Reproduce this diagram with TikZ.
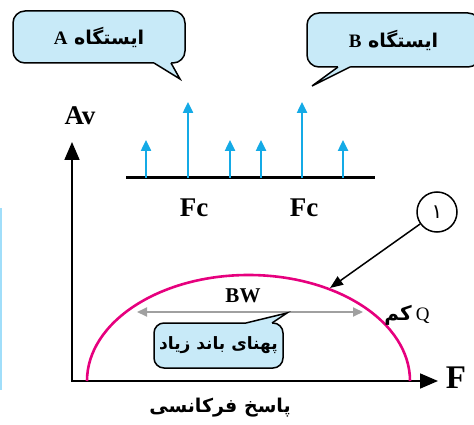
\documentclass[tikz,border=0pt]{standalone}
\usepackage{fontspec}
\setmainfont{Liberation Serif}
\newfontfamily\farsifont[Script=Arabic]{DejaVu Sans}
\usetikzlibrary{arrows.meta, positioning}
\TeXXeTstate=1

\definecolor{bubblefill}{RGB}{200,234,248}
\definecolor{carrier}{RGB}{20,170,230}
\definecolor{curvepink}{RGB}{230,0,126}
\definecolor{bwgray}{RGB}{160,160,160}
\definecolor{stripblue}{RGB}{160,222,250}

\begin{document}
\begin{tikzpicture}[x=1pt, y=-1pt,    % pixel-like grid, y runs down
    bubble/.style={
        draw=black,
        line width=1.5pt,
        fill=bubblefill,
        rounded corners=12pt,
        inner sep=0pt
    },
    tailedge/.style={line width=1.5pt, line join=miter},
    axisline/.style={line width=1.8pt, -{Triangle[length=18pt, width=15pt]}},
    spike/.style={carrier, line width=2.4pt, -{Triangle[length=11pt, width=10pt]}},
    biglabel/.style={font=\fontsize{27}{30}\selectfont\bfseries},
    farsilabel/.style={font=\fontsize{19}{22}\selectfont\farsifont\bfseries}
]
    \useasboundingbox (0,0) rectangle (474,425);
    \clip (0,0) rectangle (474,425);

    % 1. The station bubbles
    \node [bubble, farsilabel, minimum width=172pt, minimum height=52pt] (stationA) at (99,37)
        {\beginR ایستگاه {\rmfamily A}\endR};
    \fill [bubblefill] (154,58) -- (154,63) -- (180,79) -- (171,63) -- (171,58) -- cycle;
    \draw [tailedge] (154,63) -- (180,79) -- (171,63);

    \node [bubble, farsilabel, minimum width=173pt, minimum height=54pt] (stationB) at (393.5,40)
        {\beginR ایستگاه {\rmfamily B}\endR};
    \fill [bubblefill] (338,62) -- (338,67) -- (312,86) -- (350,67) -- (350,62) -- cycle;
    \draw [tailedge] (338,67) -- (312,86) -- (350,67);

    % 2. The spectrum
    \coordinate (baseL) at (126,178);
    \coordinate (baseR) at (375,178);
    \draw [line width=3pt] (baseL) -- (baseR);
    \foreach \x/\tip in {146/140, 188/102, 230/140, 261/140, 302/102, 343/140}
        \draw [spike] (\x,178) -- (\x,\tip);
    \node [biglabel] (fcA) at (194,208) {Fc};
    \node [biglabel] (fcB) at (304,208) {Fc};

    % 3. The axes
    \coordinate (origin) at (72,381);
    \coordinate (yend) at (72,142);
    \coordinate (xend) at (438,381);
    \draw [axisline] (origin) -- (yend);
    \draw [axisline] (71,381) -- (xend);
    \node [biglabel] (avlabel) at (80,116) {Av};
    \node [font=\fontsize{33}{36}\selectfont\bfseries] (flabel) at (456,378) {F};
    \node [farsilabel] (freqresp) at (220,408) {\beginR پاسخ فرکانسی\endR};

    % 4. The response curve
    \draw [curvepink, line width=2.6pt] (87,381) arc [start angle=180, end angle=360, x radius=161.5, y radius=106];

    % bandwidth
    \coordinate (bwL) at (137,312);
    \coordinate (bwR) at (363,312);
    \draw [bwgray, line width=1.8pt, {Triangle[length=10pt, width=9pt]}-{Triangle[length=10pt, width=9pt]}] (bwL) -- (bwR);
    \node [font=\fontsize{21}{24}\selectfont\bfseries] (bwlabel) at (243,296) {BW};

    \node [bubble, rounded corners=10pt, farsilabel, font=\fontsize{17}{20}\selectfont\farsifont\bfseries,
           minimum width=129pt, minimum height=45pt] (wideband) at (218.5,345.5)
        {\beginR پهنای باند زیاد\endR};
    \fill [bubblefill] (246,328) -- (246,323) -- (287,313) -- (272,323) -- (272,328) -- cycle;
    \draw [tailedge] (246,323) -- (287,313) -- (272,323);

    % 5. The marker "1" and low Q
    \node [circle, draw, line width=1.5pt, minimum size=40pt, inner sep=0pt, font=\fontsize{20}{22}\selectfont\farsifont] (one) at (437,212) {۱};
    \coordinate (curvept) at (330,288);
    \draw [line width=1.5pt, -{Triangle[length=13pt, width=10pt]}] (one) -- (curvept);
    \node (lowq) at (407,315) {\beginR{\rmfamily\fontsize{19}{22}\selectfont Q}\, {\fontsize{20}{22}\selectfont\farsifont\bfseries کم}\endR};

    % edge strip
    \fill [stripblue] (0,208) rectangle (1.5,390);

\end{tikzpicture}
\end{document}
